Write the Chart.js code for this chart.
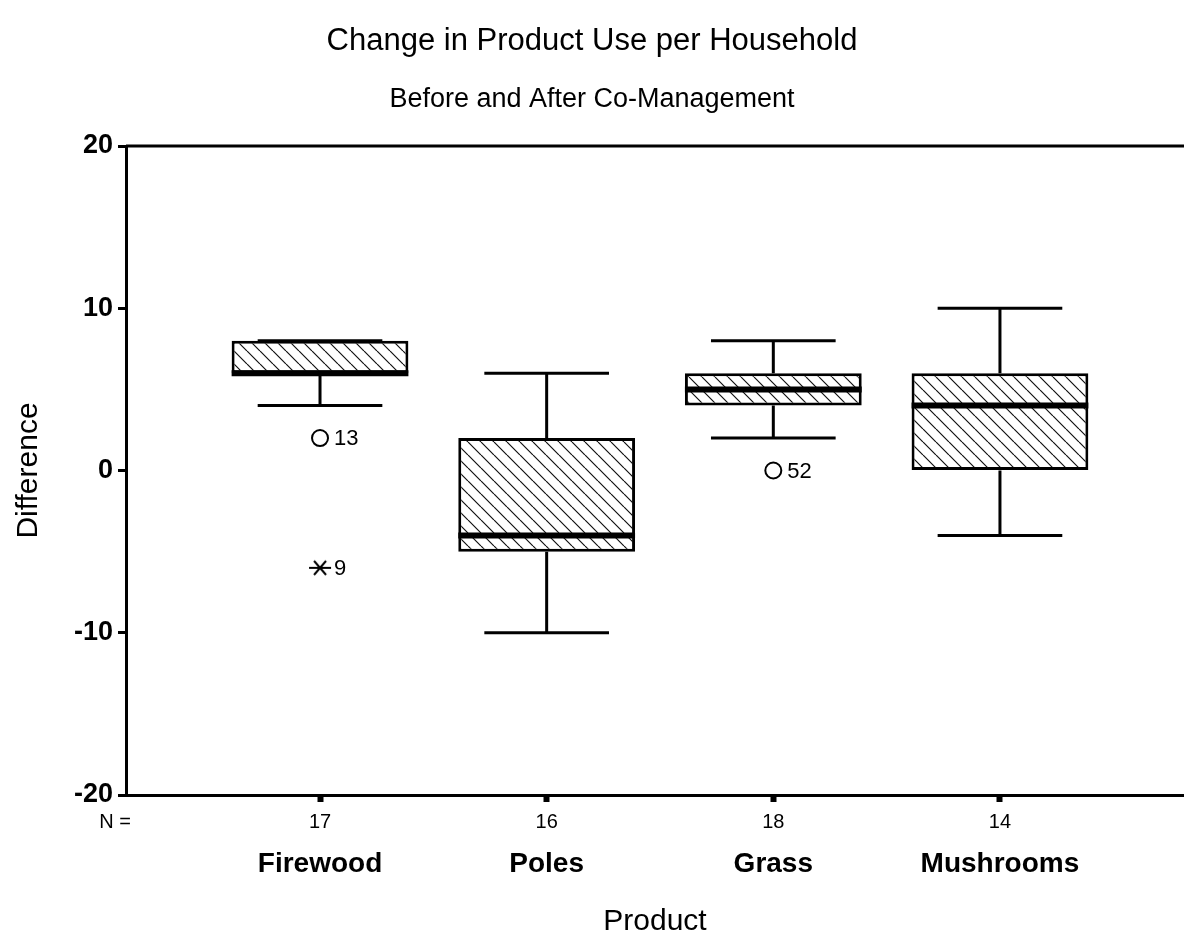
<!DOCTYPE html>
<html>
<head>
<meta charset="utf-8">
<script src="https://cdn.jsdelivr.net/npm/chart.js@4/dist/chart.umd.min.js"></script>
<style>
  html, body { margin: 0; padding: 0; background: #fff; }
</style>
</head>
<body>
<canvas id="boxChart" width="1184" height="934"></canvas>
<script>
const categories = ["Firewood", "Poles", "Grass", "Mushrooms"];
const nCounts = ["17", "16", "18", "14"];
const q1 = [6, -5, 4, 0];
const q3 = [8, 2, 6, 6];
const medians = [6, -4, 5, 4];
const whiskerLow = [4, -10, 2, -4];
const whiskerHigh = [8, 6, 8, 10];
const outlierCat = [1, 1, 3];
const outlierValue = [2, -6, 0];
const outlierCase = ["13", "9", "52"];
const outlierKind = ["outlier", "extreme", "outlier"];
const yTicks = [-20, -10, 0, 10, 20];
const xPositions = categories.map((c, i) => i + 1);

const SANS = "'Liberation Sans', Arial, sans-serif";
const NARROW = "'Liberation Sans Narrow', 'Liberation Sans', Arial, sans-serif";
Chart.defaults.font.family = SANS;
Chart.defaults.color = "#000";

const ctx = document.getElementById("boxChart").getContext("2d");

// diagonal hatch like the SPSS box fill
function hatch() {
  const s = 13;
  const c = document.createElement("canvas");
  c.width = s; c.height = s;
  const g = c.getContext("2d");
  g.fillStyle = "#fff";
  g.fillRect(0, 0, s, s);
  g.strokeStyle = "#111";
  g.lineWidth = 1.2;
  g.beginPath();
  for (const o of [-s, 0, s]) { g.moveTo(o, 0); g.lineTo(o + s, s); }
  g.stroke();
  return ctx.createPattern(c, "repeat");
}

// asterisk marker for extreme values
function extremeMark() {
  const c = document.createElement("canvas");
  c.width = 24; c.height = 24;
  const g = c.getContext("2d");
  g.strokeStyle = "#000";
  g.lineWidth = 2;
  g.beginPath();
  g.moveTo(1, 12); g.lineTo(23, 12);
  g.moveTo(6, 5); g.lineTo(18, 19);
  g.moveTo(18, 5); g.lineTo(6, 19);
  g.stroke();
  return c;
}
const starImg = extremeMark();

const boxExtras = {
  id: "boxExtras",
  afterDatasetsDraw(chart) {
    const { ctx, scales, chartArea } = chart;
    const x = scales.x, y = scales.y;
    const meta = chart.getDatasetMeta(0);
    ctx.save();
    ctx.strokeStyle = "#000";
    ctx.lineCap = "butt";
    // whiskers + caps
    xPositions.forEach((pos, i) => {
      const cx = x.getPixelForValue(pos);
      const half = x.getPixelForValue(pos + 0.275) - cx;
      ctx.lineWidth = 3;
      ctx.beginPath();
      ctx.moveTo(cx, y.getPixelForValue(q3[i]));
      ctx.lineTo(cx, y.getPixelForValue(whiskerHigh[i]));
      ctx.moveTo(cx, y.getPixelForValue(q1[i]));
      ctx.lineTo(cx, y.getPixelForValue(whiskerLow[i]));
      ctx.moveTo(cx - half, y.getPixelForValue(whiskerHigh[i]));
      ctx.lineTo(cx + half, y.getPixelForValue(whiskerHigh[i]));
      ctx.moveTo(cx - half, y.getPixelForValue(whiskerLow[i]));
      ctx.lineTo(cx + half, y.getPixelForValue(whiskerLow[i]));
      ctx.stroke();
      // median
      const el = meta.data[i];
      ctx.lineWidth = 6;
      ctx.beginPath();
      const my = y.getPixelForValue(medians[i]);
      ctx.moveTo(el.x - el.width / 2, my);
      ctx.lineTo(el.x + el.width / 2, my);
      ctx.stroke();
    });
    // top frame line
    ctx.lineWidth = 3;
    ctx.beginPath();
    ctx.moveTo(chartArea.left, chartArea.top);
    ctx.lineTo(chartArea.right, chartArea.top);
    ctx.stroke();
    // outlier case numbers
    ctx.fillStyle = "#000";
    ctx.font = "22px " + SANS;
    ctx.textBaseline = "middle";
    ctx.textAlign = "left";
    outlierValue.forEach((v, i) => {
      ctx.fillText(outlierCase[i], x.getPixelForValue(outlierCat[i]) + 14, y.getPixelForValue(v) + 1);
    });
    // "N =" label next to counts
    ctx.font = "20px " + NARROW;
    ctx.textAlign = "center";
    ctx.fillText("N =", chartArea.left - 11, x.top + 7 + 8 + 12);
    ctx.restore();
  }
};

new Chart(ctx, {
  type: "bar",
  data: {
    datasets: [
      {
        label: "box",
        data: xPositions.map((p, i) => ({ x: p, y: [q1[i], q3[i]] })),
        backgroundColor: hatch(),
        borderColor: "#000",
        borderWidth: 3,
        borderSkipped: false,
        categoryPercentage: 1,
        barPercentage: 0.78
      },
      {
        type: "scatter",
        label: "outliers",
        data: outlierValue.map((v, i) => ({ x: outlierCat[i], y: v })),
        pointStyle: (c) => outlierKind[c.dataIndex] === "extreme" ? starImg : "circle",
        pointRadius: 8,
        pointHoverRadius: 8,
        borderColor: "#000",
        backgroundColor: "#fff",
        borderWidth: 2
      }
    ]
  },
  options: {
    responsive: false,
    animation: false,
    devicePixelRatio: 1,
    layout: { autoPadding: false, padding: 0 },
    plugins: {
      legend: { display: false },
      tooltip: { enabled: false },
      title: {
        display: true,
        text: "Change in Product Use per Household",
        font: { size: 31, weight: "normal" },
        color: "#000",
        padding: { top: 23, bottom: 0 }
      },
      subtitle: {
        display: true,
        text: "Before and After Co-Management",
        font: { size: 27, weight: "normal" },
        color: "#000",
        padding: { top: 23.6, bottom: 29.8 }
      }
    },
    scales: {
      x: {
        type: "linear",
        offset: false,
        min: 0.144,
        max: 4.812,
        afterBuildTicks: (s) => { s.ticks = xPositions.map((v) => ({ value: v })); },
        afterFit: (s) => { s.height = 42; s.paddingRight = 0; s.paddingLeft = 0; },
        ticks: {
          callback: (v, i) => nCounts[i],
          font: { family: NARROW, size: 20 },
          color: "#000",
          padding: 8,
          autoSkip: false,
          maxRotation: 0
        },
        grid: { offset: false, drawOnChartArea: false, drawTicks: true, tickLength: 7, tickWidth: 6, tickColor: "#000" },
        border: { color: "#000", width: 3 }
      },
      x2: {
        type: "linear",
        position: "bottom",
        offset: false,
        min: 0.144,
        max: 4.812,
        afterBuildTicks: (s) => { s.ticks = xPositions.map((v) => ({ value: v })); },
        afterFit: (s) => { s.height = 97; s.paddingRight = 0; s.paddingLeft = 0; },
        ticks: {
          callback: (v, i) => categories[i],
          font: { size: 28, weight: "bold" },
          color: "#000",
          padding: 10,
          autoSkip: false,
          maxRotation: 0
        },
        grid: { offset: false, display: false, drawTicks: false },
        border: { display: false },
        title: {
          display: true,
          text: "Product",
          font: { size: 30, lineHeight: 1 },
          color: "#000",
          padding: { top: 0, bottom: -3 }
        }
      },
      y: {
        min: -20,
        max: 20,
        afterBuildTicks: (s) => { s.ticks = yTicks.map((v) => ({ value: v })); },
        afterFit: (s) => { s.width = 126; },
        ticks: { font: { size: 27, weight: "bold" }, color: "#000", padding: 5 },
        grid: { drawOnChartArea: false, drawTicks: true, tickLength: 8, tickWidth: 3, tickColor: "#000" },
        border: { color: "#000", width: 3 },
        title: {
          display: true,
          text: "Difference",
          font: { size: 30, lineHeight: 1 },
          color: "#000",
          padding: { top: 14, bottom: 0 }
        }
      }
    }
  },
  plugins: [boxExtras]
});
</script>
</body>
</html>
